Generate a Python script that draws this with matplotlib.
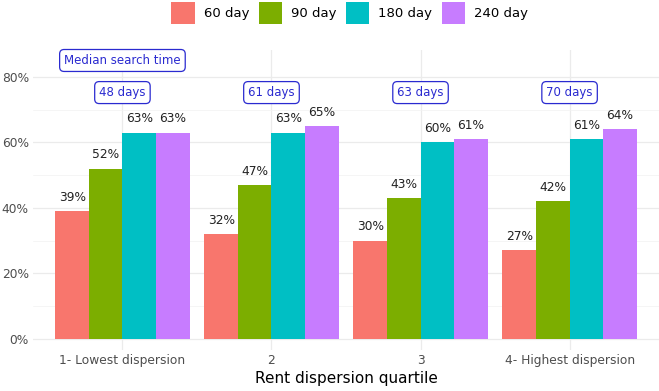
import numpy as np
import matplotlib.pyplot as plt
from matplotlib.ticker import FuncFormatter

quartiles = ['1- Lowest dispersion', '2', '3', '4- Highest dispersion']
series = ['60 day', '90 day', '180 day', '240 day']
day60 = [0.39, 0.32, 0.30, 0.27]
day90 = [0.52, 0.47, 0.43, 0.42]
day180 = [0.63, 0.63, 0.60, 0.61]
day240 = [0.63, 0.65, 0.61, 0.64]
median_days = ['48 days', '61 days', '63 days', '70 days']
colors = ['#F8766D', '#7CAE00', '#00BFC4', '#C77CFF']

values = [day60, day90, day180, day240]

fig = plt.figure(figsize=(6.59, 3.91), dpi=100)
ax = fig.add_axes([33 / 659, 1 - 350 / 391, 1 - 33 / 659, 300 / 391])

x = np.arange(len(quartiles))
w = 0.9 / 4
for i, (vals, name, c) in enumerate(zip(values, series, colors)):
    pos = x - 0.45 + w * (i + 0.5)
    ax.bar(pos, vals, width=w, color=c, label=name, zorder=2)
    for p, v in zip(pos, vals):
        ax.text(p, v + 0.022, f'{round(v * 100)}%', ha='center', va='bottom',
                fontsize=8.8, color='#222222')

box = dict(boxstyle='round,pad=0.38', fc='white', ec='#2a2ad0', lw=0.9)
for xi, lab in zip(x, median_days):
    ax.text(xi, 0.752, lab, ha='center', va='center', fontsize=8.5,
            color='#2a2ad0', bbox=box)
ax.text(0, 0.85, 'Median search time', ha='center', va='center', fontsize=8.5,
        color='#2a2ad0', bbox=box)

ax.set_xlim(-0.6, 3.6)
ax.set_ylim(-0.034, 0.882)
ax.set_yticks([0, 0.2, 0.4, 0.6, 0.8])
ax.set_yticks([0.1, 0.3, 0.5, 0.7], minor=True)
ax.yaxis.set_major_formatter(FuncFormatter(lambda v, _: f'{v * 100:.0f}%'))
ax.set_xticks(x)
ax.set_xticklabels(quartiles)
ax.grid(True, which='major', color='#EBEBEB', lw=0.9, zorder=0)
ax.grid(True, which='minor', axis='y', color='#F2F2F2', lw=0.5, zorder=0)
ax.set_axisbelow(True)
for s in ax.spines.values():
    s.set_visible(False)
ax.tick_params(which='both', length=0, labelsize=8.8, labelcolor='#4D4D4D', pad=3)
ax.set_xlabel('Rent dispersion quartile', fontsize=11, labelpad=3)

fig.legend(loc='center', ncol=4, frameon=False, fontsize=9.5,
           bbox_to_anchor=(0.531, 1 - 13 / 391), handlelength=1.75, handleheight=2.2,
           columnspacing=0.75, handletextpad=0.68, borderpad=0)

fig.savefig('out.png', dpi=100)
